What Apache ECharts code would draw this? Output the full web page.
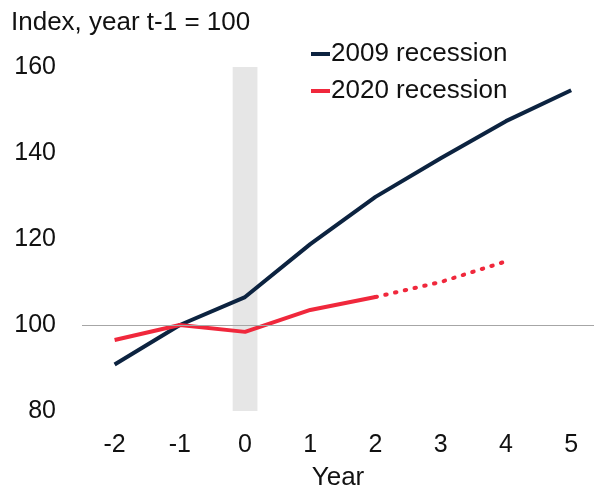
<!DOCTYPE html>
<html><head><meta charset="utf-8">
<script src="https://cdn.jsdelivr.net/npm/echarts@6/dist/echarts.min.js"></script>
<style>html,body{margin:0;padding:0;background:#fff}#c{width:594px;height:489px}</style>
</head><body><div id="c"></div>
<script>
const years = [-2, -1, 0, 1, 2, 3, 4, 5];
const rec2009 = [90.8, 100, 106.5, 118.8, 129.8, 138.8, 147.4, 154.6];
const rec2020 = [96.5, 100, 98.4, 103.5, 106.5];
const years2020 = [-2, -1, 0, 1, 2];
const proj2020 = [106.5, 110, 114.8];
const projYears = [2, 3, 4];
const yTicks = [80, 100, 120, 140, 160];

const navy = '#0c2340', red = '#f0283c';
const font = 'Liberation Sans, Arial, sans-serif';
const chart = echarts.init(document.getElementById('c'));
chart.setOption({
  animation: false,
  textStyle: {fontFamily: font},
  title: {text: 'Index, year t-1 = 100', left: 11, top: 10, padding: 0,
    textStyle: {fontSize: 26, fontWeight: 'normal', color: '#111', fontFamily: font}},
  legend: {orient: 'vertical', left: 311, top: 41, padding: 0, itemGap: 11, itemWidth: 19, itemHeight: 4,
    icon: 'rect', data: ['2009 recession', '2020 recession'],
    textStyle: {fontSize: 26, color: '#111', padding: [0, 0, 0, -4], fontFamily: font}},
  grid: {left: 82, right: 0, top: 67, bottom: 78, containLabel: false, outerBoundsMode: 'none'},
  xAxis: {type: 'value', min: -2.5, max: 5.35, interval: 0.5,
    name: 'Year', nameLocation: 'middle', nameGap: 54,
    nameTextStyle: {fontSize: 26, color: '#111', fontFamily: font},
    axisLine: {show: false}, axisTick: {show: false}, splitLine: {show: false},
    axisLabel: {fontSize: 25, color: '#111', margin: 22, showMaxLabel: false,
      formatter: v => (Number.isInteger(v) && years.includes(v)) ? String(v) : ''}},
  yAxis: {type: 'value', min: yTicks[0], max: yTicks[yTicks.length - 1], interval: 20,
    axisLine: {show: false}, axisTick: {show: false}, splitLine: {show: false},
    axisLabel: {fontSize: 25, color: '#111', margin: 26}},
  series: [
    {name: '2009 recession', type: 'line', symbol: 'none', z: 3,
      data: years.map((x, i) => [x, rec2009[i]]),
      lineStyle: {color: navy, width: 4}, itemStyle: {color: navy},
      markArea: {silent: true, itemStyle: {color: '#e6e6e6'},
        data: [[{xAxis: -0.19, yAxis: 80}, {xAxis: 0.19, yAxis: 160}]]},
      markLine: {silent: true, symbol: 'none', label: {show: false},
        lineStyle: {color: '#a6a6a6', width: 1.2, type: 'solid'},
        data: [{yAxis: 100}]}},
    {name: '2020 recession', type: 'line', symbol: 'none', z: 4,
      data: years2020.map((x, i) => [x, rec2020[i]]),
      lineStyle: {color: red, width: 4}, itemStyle: {color: red}},
    {name: '2020 projection', type: 'line', symbol: 'none', z: 4,
      data: projYears.map((x, i) => [x, proj2020[i]]),
      lineStyle: {color: red, width: 4, type: [1.5, 8.5], cap: 'round'}, itemStyle: {color: red}}
  ]
});
</script></body></html>
